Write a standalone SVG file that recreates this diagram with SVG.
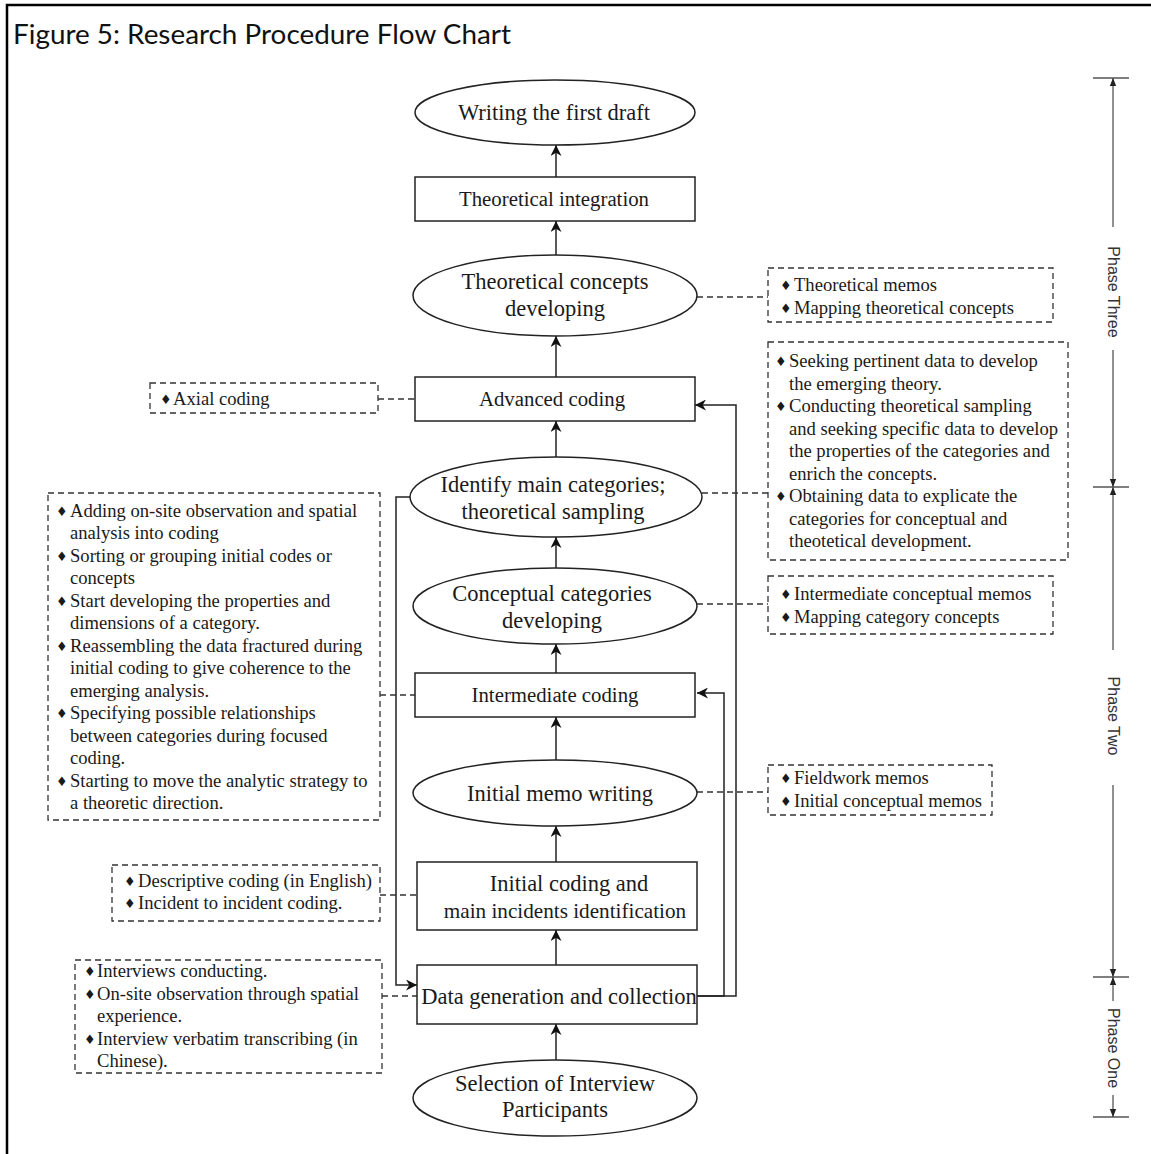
<svg xmlns="http://www.w3.org/2000/svg" width="1151" height="1154" viewBox="0 0 1151 1154">
  <defs>
    <style>
      .node { fill: #ffffff; stroke: #222; stroke-width: 1.5; }
      .label { font-family: "Liberation Serif", "Times New Roman", serif; font-size: 22.5px; fill: #1a1a1a; text-anchor: middle; }
      .label-sm { font-family: "Liberation Serif", "Times New Roman", serif; font-size: 20.8px; fill: #1a1a1a; text-anchor: middle; }
      .note-box { fill: none; stroke: #333; stroke-width: 1.3; stroke-dasharray: 6 4; }
      .note { font-family: "Liberation Serif", "Times New Roman", serif; font-size: 18.6px; fill: #1a1a1a; }
      .bullet { font-family: "DejaVu Sans", sans-serif; font-size: 13px; fill: #1a1a1a; }
      .flow { fill: none; stroke: #222; stroke-width: 1.5; }
      .dash { fill: none; stroke: #333; stroke-width: 1.3; stroke-dasharray: 6 4; }
      .scale { fill: none; stroke: #555; stroke-width: 1.3; }
      .phase { font-family: "Liberation Sans", Arial, sans-serif; font-size: 16px; fill: #333; text-anchor: middle; }
    </style>
    <marker id="arrow" viewBox="0 0 10 10" refX="10" refY="5" markerWidth="11" markerHeight="11" markerUnits="userSpaceOnUse" orient="auto">
      <path d="M0,0 L10,5 L0,10 L3,5 Z" fill="#111"/>
    </marker>
    <marker id="tip" viewBox="0 0 10 10" refX="10" refY="5" markerWidth="8" markerHeight="8" markerUnits="userSpaceOnUse" orient="auto">
      <path d="M0,1 L10,5 L0,9 Z" fill="#222"/>
    </marker>
  </defs>

  <rect x="0" y="0" width="1151" height="1154" fill="#ffffff"/>

  <!-- page frame (open at right and bottom) -->
  <path d="M7,1154 V5 H1151" fill="none" stroke="#000" stroke-width="2.5"/>

  <text x="13" y="44" font-family="Lato, Liberation Sans, Arial, sans-serif" font-size="26" fill="#111" textLength="498" lengthAdjust="spacingAndGlyphs">Figure 5: Research Procedure Flow Chart</text>

  <!-- connectors -->
  <g id="connectors">
    <!-- main upward flow -->
    <line class="flow" x1="556" y1="177" x2="556" y2="145" marker-end="url(#arrow)"/>
    <line class="flow" x1="556" y1="255" x2="556" y2="221" marker-end="url(#arrow)"/>
    <line class="flow" x1="556" y1="377" x2="556" y2="336" marker-end="url(#arrow)"/>
    <line class="flow" x1="556" y1="457" x2="556" y2="421" marker-end="url(#arrow)"/>
    <line class="flow" x1="556" y1="568" x2="556" y2="537" marker-end="url(#arrow)"/>
    <line class="flow" x1="556" y1="673" x2="556" y2="644" marker-end="url(#arrow)"/>
    <line class="flow" x1="556" y1="760" x2="556" y2="717" marker-end="url(#arrow)"/>
    <line class="flow" x1="556" y1="862" x2="556" y2="826" marker-end="url(#arrow)"/>
    <line class="flow" x1="556" y1="965" x2="556" y2="930" marker-end="url(#arrow)"/>
    <line class="flow" x1="556" y1="1060" x2="556" y2="1024" marker-end="url(#arrow)"/>

    <!-- feedback loops on the right -->
    <polyline class="flow" points="697,996 724,996 724,693 697,693" marker-end="url(#arrow)"/>
    <polyline class="flow" points="697,996 736,996 736,405 695,405" marker-end="url(#arrow)"/>

    <!-- feedback loop on the left -->
    <polyline class="flow" points="410,497 396,497 396,985 417,985" marker-end="url(#arrow)"/>

    <!-- dashed links to notes -->
    <line class="dash" x1="697" y1="297" x2="768" y2="297"/>
    <line class="dash" x1="378" y1="399" x2="415" y2="399"/>
    <line class="dash" x1="702" y1="493" x2="768" y2="493"/>
    <line class="dash" x1="697" y1="604" x2="768" y2="604"/>
    <line class="dash" x1="380" y1="695" x2="415" y2="695"/>
    <line class="dash" x1="697" y1="792" x2="768" y2="792"/>
    <line class="dash" x1="380" y1="895" x2="417" y2="895"/>
    <line class="dash" x1="382" y1="996" x2="417" y2="996"/>
  </g>

  <!-- process nodes -->
  <g id="writing-first-draft">
    <ellipse class="node" cx="555" cy="112.5" rx="140" ry="32.5"/>
    <text class="label" x="554" y="120">Writing the first draft</text>
  </g>
  <g id="theoretical-integration">
    <rect class="node" x="415" y="177" width="280" height="44"/>
    <text class="label-sm" x="554" y="206">Theoretical integration</text>
  </g>
  <g id="theoretical-concepts">
    <ellipse class="node" cx="555" cy="295.5" rx="142" ry="40.5"/>
    <text class="label" x="555" y="289">Theoretical concepts</text>
    <text class="label" x="555" y="316">developing</text>
  </g>
  <g id="advanced-coding">
    <rect class="node" x="415" y="377" width="280" height="44"/>
    <text class="label-sm" x="552" y="406">Advanced coding</text>
  </g>
  <g id="main-categories">
    <ellipse class="node" cx="556" cy="497" rx="146" ry="40"/>
    <text class="label" x="553" y="492">Identify main categories;</text>
    <text class="label" x="553" y="519">theoretical sampling</text>
  </g>
  <g id="conceptual-categories">
    <ellipse class="node" cx="555" cy="606" rx="142" ry="38"/>
    <text class="label" x="552" y="601">Conceptual categories</text>
    <text class="label" x="552" y="628">developing</text>
  </g>
  <g id="intermediate-coding">
    <rect class="node" x="415" y="673" width="280" height="44"/>
    <text class="label-sm" x="555" y="702">Intermediate coding</text>
  </g>
  <g id="initial-memo">
    <ellipse class="node" cx="555" cy="793" rx="142" ry="33"/>
    <text class="label" x="560" y="801">Initial memo writing</text>
  </g>
  <g id="initial-coding">
    <rect class="node" x="417" y="862" width="280" height="68"/>
    <text class="label" x="569" y="891">Initial coding and</text>
    <text class="label" x="565" y="918" style="font-size:21.2px">main incidents identification</text>
  </g>
  <g id="data-generation">
    <rect class="node" x="417" y="965" width="280" height="59"/>
    <text class="label" x="559" y="1004">Data generation and collection</text>
  </g>
  <g id="selection-participants">
    <ellipse class="node" cx="555" cy="1098" rx="142" ry="38"/>
    <text class="label" x="555" y="1091">Selection of Interview</text>
    <text class="label" x="555" y="1117">Participants</text>
  </g>

  <!-- dashed notes -->
  <g id="note-theoretical-memos">
    <rect class="note-box" x="768" y="268" width="285" height="54"/>
    <text class="bullet" x="780" y="290">♦</text><text class="note" x="794" y="291">Theoretical memos</text>
    <text class="bullet" x="780" y="313">♦</text><text class="note" x="794" y="314">Mapping theoretical concepts</text>
  </g>
  <g id="note-axial-coding">
    <rect class="note-box" x="150" y="383" width="228" height="30"/>
    <text class="bullet" x="160" y="404">♦</text><text class="note" x="173" y="405">Axial coding</text>
  </g>
  <g id="note-theoretical-sampling">
    <rect class="note-box" x="768" y="342" width="300" height="218"/>
    <text class="bullet" x="775" y="366">♦</text><text class="note" x="789" y="367">Seeking pertinent data to develop</text>
    <text class="note" x="789" y="390">the emerging theory.</text>
    <text class="bullet" x="775" y="411">♦</text><text class="note" x="789" y="412">Conducting theoretical sampling</text>
    <text class="note" x="789" y="435">and seeking specific data to develop</text>
    <text class="note" x="789" y="457">the properties of the categories and</text>
    <text class="note" x="789" y="480">enrich the concepts.</text>
    <text class="bullet" x="775" y="501">♦</text><text class="note" x="789" y="502">Obtaining data to explicate the</text>
    <text class="note" x="789" y="525">categories for conceptual and</text>
    <text class="note" x="789" y="547">theotetical development.</text>
  </g>
  <g id="note-conceptual-memos">
    <rect class="note-box" x="768" y="576" width="285" height="58"/>
    <text class="bullet" x="780" y="599">♦</text><text class="note" x="794" y="600">Intermediate conceptual memos</text>
    <text class="bullet" x="780" y="622">♦</text><text class="note" x="794" y="623">Mapping category concepts</text>
  </g>
  <g id="note-focused-coding">
    <rect class="note-box" x="48" y="493" width="332" height="327"/>
    <text class="bullet" x="56" y="516">♦</text><text class="note" x="70" y="517">Adding on-site observation and spatial</text>
    <text class="note" x="70" y="539">analysis into coding</text>
    <text class="bullet" x="56" y="561">♦</text><text class="note" x="70" y="562">Sorting or grouping initial codes or</text>
    <text class="note" x="70" y="584">concepts</text>
    <text class="bullet" x="56" y="606">♦</text><text class="note" x="70" y="607">Start developing the properties and</text>
    <text class="note" x="70" y="629">dimensions of a category.</text>
    <text class="bullet" x="56" y="651">♦</text><text class="note" x="70" y="652">Reassembling the data fractured during</text>
    <text class="note" x="70" y="674">initial coding to give coherence to the</text>
    <text class="note" x="70" y="697">emerging analysis.</text>
    <text class="bullet" x="56" y="718">♦</text><text class="note" x="70" y="719">Specifying possible relationships</text>
    <text class="note" x="70" y="742">between categories during focused</text>
    <text class="note" x="70" y="764">coding.</text>
    <text class="bullet" x="56" y="786">♦</text><text class="note" x="70" y="787">Starting to move the analytic strategy to</text>
    <text class="note" x="70" y="809">a theoretic direction.</text>
  </g>
  <g id="note-fieldwork-memos">
    <rect class="note-box" x="768" y="765" width="224" height="50"/>
    <text class="bullet" x="780" y="783">♦</text><text class="note" x="794" y="784">Fieldwork memos</text>
    <text class="bullet" x="780" y="806">♦</text><text class="note" x="794" y="807">Initial conceptual memos</text>
  </g>
  <g id="note-descriptive-coding">
    <rect class="note-box" x="112" y="865" width="268" height="56"/>
    <text class="bullet" x="124" y="886">♦</text><text class="note" x="138" y="887">Descriptive coding (in English)</text>
    <text class="bullet" x="124" y="908">♦</text><text class="note" x="138" y="909">Incident to incident coding.</text>
  </g>
  <g id="note-data-collection">
    <rect class="note-box" x="75" y="960" width="307" height="113"/>
    <text class="bullet" x="84" y="976">♦</text><text class="note" x="97" y="977">Interviews conducting.</text>
    <text class="bullet" x="84" y="999">♦</text><text class="note" x="97" y="1000">On-site observation through spatial</text>
    <text class="note" x="97" y="1022">experience.</text>
    <text class="bullet" x="84" y="1044">♦</text><text class="note" x="97" y="1045">Interview verbatim transcribing (in</text>
    <text class="note" x="97" y="1067">Chinese).</text>
  </g>

  <!-- phase scale on the right -->
  <g id="phase-scale">
    <line class="scale" x1="1093" y1="78" x2="1129" y2="78"/>
    <line class="scale" x1="1093" y1="487" x2="1129" y2="487"/>
    <line class="scale" x1="1093" y1="977" x2="1129" y2="977"/>
    <line class="scale" x1="1093" y1="1117" x2="1129" y2="1117"/>

    <line class="scale" x1="1113" y1="227" x2="1113" y2="78" marker-end="url(#tip)"/>
    <line class="scale" x1="1113" y1="350" x2="1113" y2="487" marker-end="url(#tip)"/>
    <text class="phase" transform="translate(1108,292) rotate(90)">Phase Three</text>

    <line class="scale" x1="1113" y1="650" x2="1113" y2="487" marker-end="url(#tip)"/>
    <line class="scale" x1="1113" y1="785" x2="1113" y2="977" marker-end="url(#tip)"/>
    <text class="phase" transform="translate(1108,716) rotate(90)">Phase Two</text>

    <line class="scale" x1="1113" y1="1001" x2="1113" y2="977" marker-end="url(#tip)"/>
    <line class="scale" x1="1113" y1="1095" x2="1113" y2="1117" marker-end="url(#tip)"/>
    <text class="phase" transform="translate(1108,1048) rotate(90)">Phase One</text>
  </g>
</svg>
